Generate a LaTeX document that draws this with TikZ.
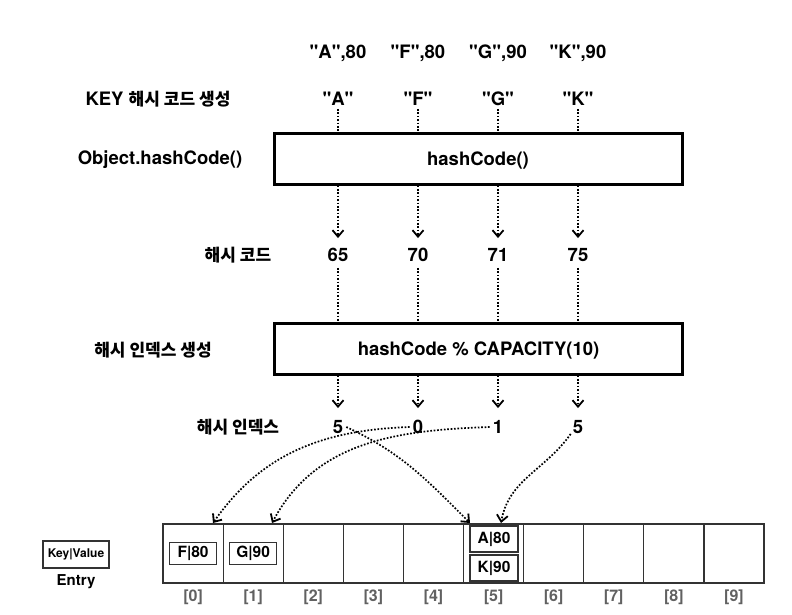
\documentclass[tikz,border=0pt]{standalone}
\usepackage{fontspec}
\setmainfont{TeX Gyre Heros}[Ligatures=TeXReset]
\newfontfamily\krfont{Noto Sans CJK KR}[Scale=0.92]
\usetikzlibrary{arrows.meta}
\newcommand\ko[1]{{\krfont #1}}
\begin{document}
\begin{tikzpicture}[x=1pt,y=-1pt,
  lbl/.style={font=\fontsize{18.5}{20}\selectfont\bfseries, inner sep=0pt, text height=13.5pt, text depth=0pt},
  bigbox/.style={lbl, draw=black, line width=3pt, minimum width=408pt, minimum height=51pt},
  cell/.style={draw=black!80, line width=1.2pt, minimum width=60.1pt, minimum height=59pt, inner sep=0pt},
  entrybox/.style={draw=black!80, line width=1.2pt, inner sep=0pt, font=\fontsize{15.5}{16}\selectfont\bfseries},
  idx/.style={font=\fontsize{16}{17}\selectfont\bfseries, text=black!62, inner sep=0pt},
  dotline/.style={line width=1.7pt, dash pattern=on 1.7pt off 1.7pt},
  dotarrow/.style={dotline, -{Straight Barb[length=6.5pt,width=11pt,line width=1.8pt]}},
]
\useasboundingbox (0,0) rectangle (792,614);

% left labels
\node[lbl] (l1) at (158,99) {KEY \ko{해시 코드 생성}};
\node[lbl] (l2) at (160,158) {Object.hashCode()};
\node[lbl] (l3) at (238,255) {\ko{해시 코드}};
\node[lbl] (l4) at (153,350) {\ko{해시 인덱스 생성}};
\node[lbl] (l5) at (238,427) {\ko{해시 인덱스}};

% top pairs and keys
\node[lbl] (kv1) at (338,52) {"A",80};
\node[lbl] (kv2) at (418,52) {"F",80};
\node[lbl] (kv3) at (498,52) {"G",90};
\node[lbl] (kv4) at (578,52) {"K",90};
\node[lbl] (k1) at (338,99) {"A"};
\node[lbl] (k2) at (418,99) {"F"};
\node[lbl] (k3) at (498,99) {"G"};
\node[lbl] (k4) at (578,99) {"K"};

% boxes
\node[bigbox] (h1) at (478,158.5) {hashCode()};
\node[bigbox] (h2) at (478.5,348.5) {hashCode \% CAPACITY(10)};

% hash codes
\node[lbl] (hc1) at (338,255) {65};
\node[lbl] (hc2) at (418,255) {70};
\node[lbl] (hc3) at (498,255) {71};
\node[lbl] (hc4) at (578,255) {75};

% indices
\node[lbl] (i1) at (338,427) {5};
\node[lbl] (i2) at (418,427) {0};
\node[lbl] (i3) at (498,427) {1};
\node[lbl] (i4) at (578,427) {5};

\foreach \i in {1,...,4}{
  \draw[dotline] ([yshift=-3pt]k\i.south) -- (k\i.south |- h1.north);
  \draw[dotarrow] (h1.south -| hc\i) -- ([yshift=10pt]hc\i.north);
  \draw[dotline] ([yshift=-6pt]hc\i.south) -- (hc\i.south |- h2.north);
  \draw[dotarrow] (h2.south -| i\i) -- ([yshift=12pt]i\i.north);
}

% array cells
\foreach \i in {0,...,9}{
  \node[cell] (c\i) at ({193.05+60.1*\i},553.5) {};
  \node[idx] (n\i) at ({193.05+60.1*\i},597) {[\i]};
}

% entries
\node[entrybox, minimum width=47pt, minimum height=22pt] (e0) at (c0) {F|80};
\node[entrybox, minimum width=47pt, minimum height=22pt] (e1) at (c1) {G|90};
\node[entrybox, minimum width=48pt, minimum height=26pt] (e5a) at (494,539) {A|80};
\node[entrybox, minimum width=48pt, minimum height=26pt] (e5b) at (494,568) {K|90};

% legend
\node[draw=black!80, line width=1.2pt, inner sep=0pt, minimum width=66pt, minimum height=27pt, font=\fontsize{12}{13}\selectfont\bfseries] (kvl) at (76,554.5) {Key|Value};
\node[font=\fontsize{15}{16}\selectfont\bfseries, inner sep=0pt] (ent) at (76,582) {Entry};

% arrow targets
\coordinate (t0) at (213,523);
\coordinate (t1) at (272,523);
\coordinate (t5a) at (470,523);
\coordinate (t5b) at (501,523);

\draw[dotarrow] ([xshift=3pt]i1.east) to[out=-25,in=135] (t5a);
\draw[dotarrow] ([xshift=-3pt]i2.west) to[out=182,in=55] (t0);
\draw[dotarrow] ([xshift=-3pt]i3.west) to[out=182,in=62] (t1);
\draw[dotarrow] ([xshift=-2pt]i4.south west) to[out=235,in=80] (t5b);
\end{tikzpicture}
\end{document}
